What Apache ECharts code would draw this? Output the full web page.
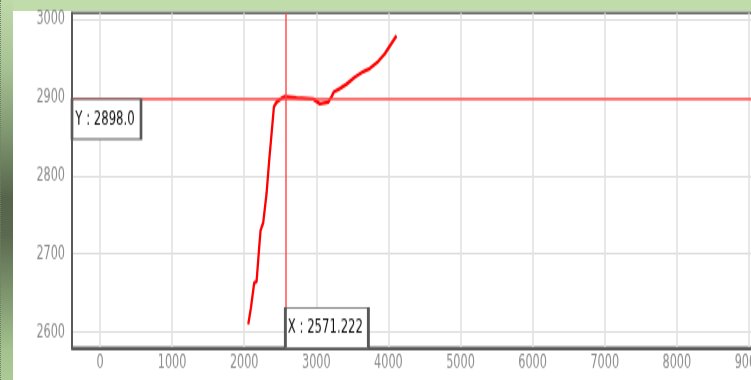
<!DOCTYPE html>
<html><head><meta charset="utf-8">
<script src="https://cdn.jsdelivr.net/npm/echarts@6/dist/echarts.min.js"></script>
<style>
html,body{margin:0;padding:0;width:751px;height:380px;overflow:hidden;background:#fff;}
#strip{position:absolute;left:0;top:0;width:13px;height:380px;box-sizing:border-box;border-left:1px dotted #6f7f66;
background:linear-gradient(to bottom,#bfd9a9 0%,#a6c193 18%,#7f9770 35%,#56654a 52%,#5b6a4f 62%,#7f976f 78%,#a3c28e 92%,#abca95 100%);}
#band{position:absolute;left:13px;top:0;width:738px;height:11px;background:#c0dcab;}
#chart{position:absolute;left:0;top:0;width:751px;height:237.5px;transform:scaleY(1.6);transform-origin:0 0;}
</style></head><body>
<div id="strip"></div><div id="band"></div>
<div id="chart"></div>
<script>
const xValues = [2056, 2093, 2116, 2139, 2172, 2204, 2227, 2264, 2310, 2347, 2380, 2412, 2449, 2518, 2564, 2588, 2726, 2957, 3049, 3165, 3211, 3243, 3326, 3419, 3534, 3650, 3742, 3858, 3950, 4043, 4112];
const yValues = [2610, 2631, 2632, 2663, 2665, 2704, 2730, 2740, 2777, 2820, 2854, 2888, 2894, 2899, 2901, 2901, 2899.5, 2898, 2892, 2894, 2901, 2907, 2911.5, 2917, 2926, 2933, 2937, 2946, 2956, 2969, 2979];
const xTicks = [0, 1000, 2000, 3000, 4000, 5000, 6000, 7000, 8000, 9000];
const yTicks = [2600, 2700, 2800, 2900, 3000];
const cursorX = 2571.222;
const cursorY = 2898.0;
const X_MIN = -388, X_MAX = 9500, Y_MIN = 2580, Y_MAX = 3008;

const FONT = '"DejaVu Sans Condensed", "Liberation Sans", sans-serif';
const points = xValues.map((x, i) => [x, yValues[i]]);

const chart = echarts.init(document.getElementById('chart'), null, {renderer: 'canvas'});
chart.setOption({
  animation: false,
  backgroundColor: 'transparent',
  grid: {left: 72, right: -34, top: 8.125, bottom: 20.6, containLabel: false, outerBoundsMode: 'none',
         show: true, borderColor: '#6e6e6e', borderWidth: 1.6, backgroundColor: 'transparent'},
  xAxis: {
    type: 'value', min: X_MIN, max: X_MAX,
    axisLine: {show: true, onZero: false, lineStyle: {color: '#5a5a5a', width: 1.8}},
    axisTick: {show: false, customValues: xTicks},
    axisLabel: {customValues: xTicks, formatter: v => String(v), color: '#8c8c8c', fontSize: 12.5, fontFamily: FONT, margin: 3},
    splitLine: {show: true, lineStyle: {color: '#e2e2e2', width: 1.6}}
  },
  yAxis: {
    type: 'value', min: Y_MIN, max: Y_MAX,
    axisLine: {show: true, onZero: false, lineStyle: {color: '#5a5a5a', width: 2}},
    axisTick: {show: false, customValues: yTicks},
    axisLabel: {customValues: yTicks, formatter: v => String(v), color: '#8c8c8c', fontSize: 12.5, fontFamily: FONT, margin: 7},
    splitLine: {show: true, lineStyle: {color: '#dadada', width: 1.1}}
  },
  series: [{
    type: 'line',
    data: points,
    showSymbol: false,
    lineStyle: {color: '#ff0000', width: 2.3},
    itemStyle: {color: '#ff0000'},
    z: 3,
    markLine: {
      silent: true, symbol: 'none', animation: false,
      lineStyle: {color: 'rgba(255,70,70,0.7)', width: 2, type: 'solid'},
      label: {show: false},
      data: [{yAxis: cursorY, lineStyle: {width: 1.8}}, {xAxis: cursorX}]
    },
    markPoint: {
      silent: true, symbol: 'rect', animation: false,
      itemStyle: {color: '#ffffff', borderColor: '#585858', borderWidth: 1.6},
      label: {show: true, position: 'inside', color: '#111111', fontSize: 13, fontFamily: FONT, offset: [-1.5, 0]},
      data: [
        {coord: [X_MIN, cursorY], symbolSize: [69, 25], symbolOffset: [34.5, 12.5], label: {formatter: 'Y : ' + cursorY.toFixed(1)}},
        {coord: [cursorX, Y_MIN], symbolSize: [83, 25], symbolOffset: [41.5, -12.5], label: {formatter: 'X : ' + cursorX.toFixed(3)}}
      ]
    }
  }]
});
</script>
</body></html>
